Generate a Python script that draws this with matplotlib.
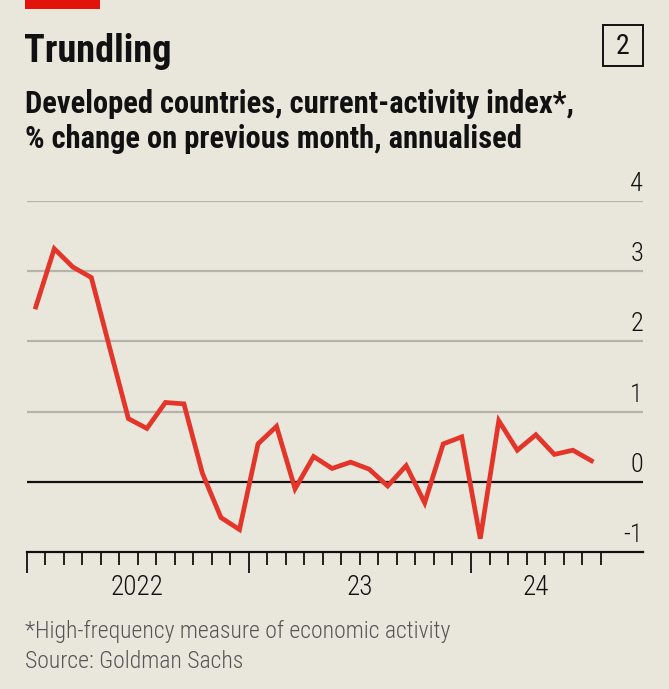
import numpy as np
import matplotlib
matplotlib.use("Agg")
from matplotlib import pyplot as plt
from matplotlib import transforms
from matplotlib.patches import Rectangle

# monthly index values, Jan 2022 .. Jul 2024
months = np.arange(31)
values = [2.49, 3.32, 3.06, 2.91, 1.90, 0.90, 0.76, 1.13, 1.11, 0.12, -0.51, -0.68,
          0.54, 0.79, -0.10, 0.36, 0.19, 0.28, 0.18, -0.06, 0.23, -0.30, 0.54, 0.64,
          -0.81, 0.87, 0.45, 0.67, 0.39, 0.45, 0.30]
yticks = [-1, 0, 1, 2, 3, 4]
year_labels = ["2022", "23", "24"]
year_label_pos = [6, 18, 27.5]

bg = "#e9e7dc"
red = "#e3352a"
plt.rcParams['font.family'] = ['Roboto Condensed', 'DejaVu Sans']

W, H = 669, 689
fig = plt.figure(figsize=(W / 100, H / 100), dpi=100, facecolor=bg)

def fx(px):
  return px / W

def fy(py):
  return 1 - py / H

# red tag
fig.patches.append(Rectangle((fx(25), fy(9)), fx(75), 9 / H, transform=fig.transFigure,
                             facecolor="#e3120b", edgecolor="none"))
fig.text(fx(24), fy(62), "Trundling", fontsize=27.5, fontweight="bold", color="#111111", va="baseline")
fig.text(fx(25), fy(113), "Developed countries, current-activity index*,", fontsize=22,
         fontweight="semibold", color="#111111", va="baseline")
fig.text(fx(25), fy(148), "% change on previous month, annualised", fontsize=22,
         fontweight="semibold", color="#111111", va="baseline")
# chart number box
fig.patches.append(Rectangle((fx(603), fy(66)), fx(40), 41 / H, transform=fig.transFigure,
                             facecolor="none", edgecolor="#111111", lw=1.4))
fig.text(fx(623), fy(46), "2", fontsize=20, color="#111111", ha="center", va="center")

fig.text(fx(25), fy(638), "*High-frequency measure of economic activity", fontsize=17,
         fontweight="light", color="#555555", va="baseline")
fig.text(fx(25), fy(668), "Source: Goldman Sachs", fontsize=17, fontweight="light",
         color="#555555", va="baseline")

ax = fig.add_axes([fx(26.5), fy(552), fx(643 - 26.5), (552 - 201) / H])
ax.set_facecolor(bg)
month_w = (471 - 26.5) / 24
ax.set_xlim(0, (643 - 26.5) / month_w)
ax.set_ylim(-1, 4)

for v in yticks[2:]:
  ax.axhline(v, color="#b4b4ad", lw=1.6, zorder=1)
ax.axhline(0, color="#111111", lw=1.6, zorder=2)

ax.plot(months + 0.5, values, color=red, lw=3.4, zorder=3, solid_joinstyle="miter")

for s in ["top", "right", "left"]:
  ax.spines[s].set_visible(False)
ax.spines["bottom"].set_color("#111111")
ax.spines["bottom"].set_linewidth(1.6)
ax.set_yticks([])

ax.set_xticks(range(0, 32), minor=True)
ax.set_xticks([0, 12, 24])
ax.tick_params(axis="x", which="major", length=15, width=1.3, color="#111111", labelbottom=False)
ax.tick_params(axis="x", which="minor", length=9, width=1.3, color="#111111")

trans = transforms.blended_transform_factory(ax.transAxes, ax.transData)
for v in yticks:
  ax.text(1.0, v + 0.07, str(v), transform=trans, ha="right", va="bottom", fontsize=19,
          fontweight="light", color="#111111")

xtrans = transforms.blended_transform_factory(ax.transData, fig.transFigure)
for lab, p in zip(year_labels, year_label_pos):
  ax.text(p, fy(595), lab, transform=xtrans, ha="center", va="baseline", fontsize=19.5,
          fontweight="light", color="#111111")

fig.savefig("out.png", dpi=100, facecolor=bg)
